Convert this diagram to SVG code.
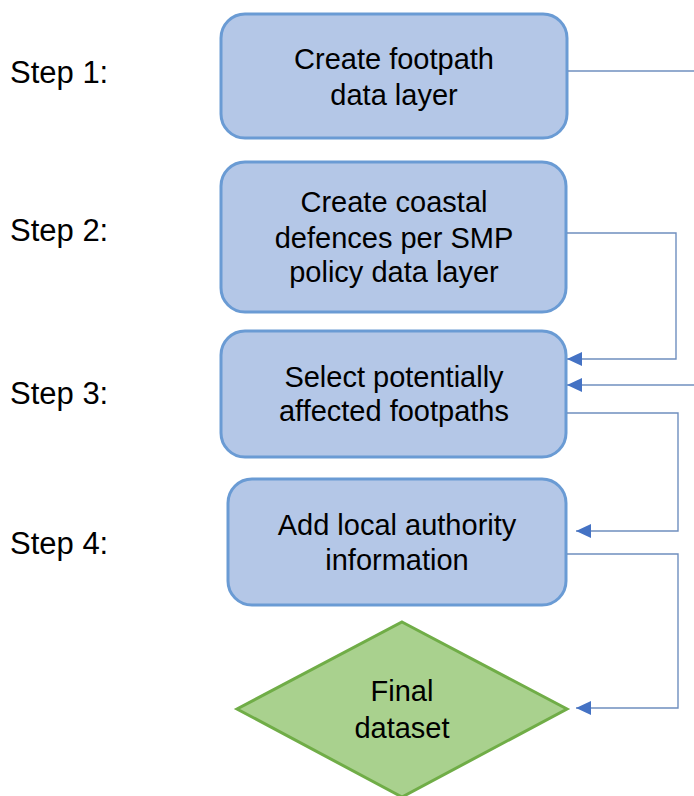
<svg xmlns="http://www.w3.org/2000/svg" width="694" height="796" viewBox="0 0 694 796">
<defs>
<style>
.box{fill:#B4C7E7;stroke:#6A9BD4;stroke-width:3}
.dia{fill:#A9D18E;stroke:#70AD47;stroke-width:3}
text{font-family:"Liberation Sans",Arial,sans-serif;font-size:29px;fill:#000}
.st{font-size:31px}
.c{text-anchor:middle}
.ln{fill:none;stroke:#6F8FBF;stroke-width:1.4}
</style>
<marker id="ah" viewBox="0 0 15 14" refX="15" refY="7" markerWidth="15" markerHeight="14" markerUnits="userSpaceOnUse" orient="auto">
<path d="M0,0 L15,7 L0,14 Z" fill="#4472C4"/>
</marker>
</defs>
<rect width="694" height="796" fill="#fff"/>
<g id="labels">
<text class="st" x="10" y="83">Step 1:</text>
<text class="st" x="10" y="241">Step 2:</text>
<text class="st" x="10" y="404">Step 3:</text>
<text class="st" x="10" y="554">Step 4:</text>
</g>
<g id="step1">
<rect class="box" x="221" y="14" width="346" height="124" rx="24"/>
<text class="c" x="394" y="69">Create footpath</text>
<text class="c" x="394" y="105">data layer</text>
</g>
<g id="step2">
<rect class="box" x="221" y="162" width="345" height="150" rx="24"/>
<text class="c" x="394" y="212">Create coastal</text>
<text class="c" x="394" y="248">defences per SMP</text>
<text class="c" x="394" y="282">policy data layer</text>
</g>
<g id="step3">
<rect class="box" x="221" y="331" width="345" height="126" rx="24"/>
<text class="c" x="394" y="387">Select potentially</text>
<text class="c" x="394" y="421">affected footpaths</text>
</g>
<g id="step4">
<rect class="box" x="228" y="479" width="338" height="126" rx="24"/>
<text class="c" x="397" y="535">Add local authority</text>
<text class="c" x="397" y="570">information</text>
</g>
<g id="final">
<polygon class="dia" points="402,622 567,709 402,797 237,709"/>
<text class="c" x="402" y="701">Final</text>
<text class="c" x="402" y="738">dataset</text>
</g>
<g id="connectors">
<polyline class="ln" points="568,71 694,71"/>
<polyline class="ln" points="694,385 567,385" marker-end="url(#ah)"/>
<polyline class="ln" points="567,233 676,233 676,359 567,359" marker-end="url(#ah)"/>
<polyline class="ln" points="567,413 678,413 678,531 576,531" marker-end="url(#ah)"/>
<polyline class="ln" points="567,554 678,554 678,708 576,708" marker-end="url(#ah)"/>
</g>
</svg>
